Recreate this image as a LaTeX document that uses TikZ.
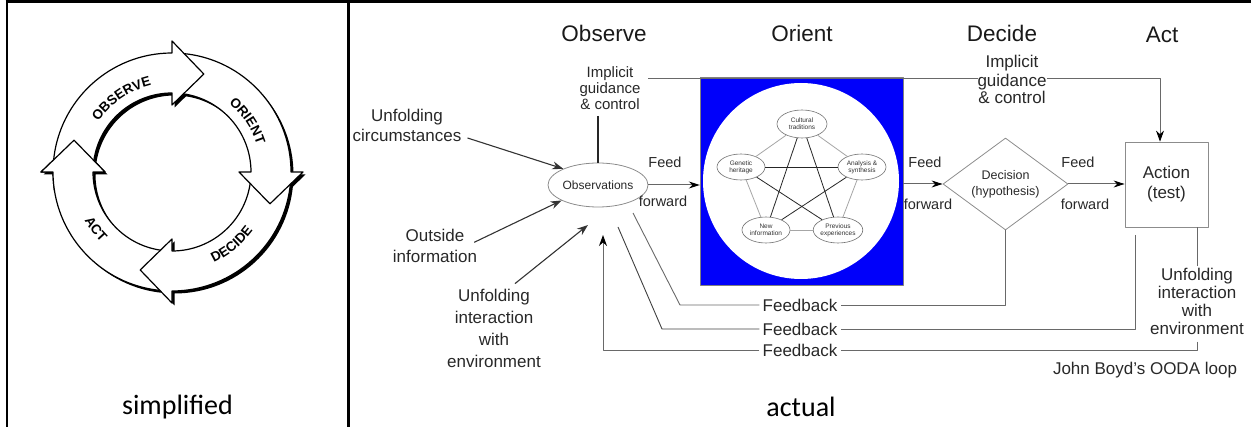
\documentclass[tikz,border=0pt]{standalone}
\usepackage{fontspec}
\setmainfont{Liberation Sans}
\newfontfamily\calfont{Carlito}
\usetikzlibrary{arrows.meta,shapes.geometric,decorations.text,calc}
\definecolor{txt}{RGB}{40,40,40}
\definecolor{ln}{RGB}{105,105,105}
\definecolor{ooblue}{RGB}{0,0,250}
\newcommand\fs[2]{\fontsize{#1}{#2}\selectfont}
\newcommand\cycfont{\fs{13.5}{14}\bfseries}
\newcommand\ooarrowpath[1]{(#1+85:119) arc[start angle=#1+85,end angle=#1,radius=119] -- (#1:131) -- (#1-18:103) -- (#1:67) -- (#1:79) arc[start angle=#1,end angle=#1+85,radius=79] -- cycle}
\begin{document}
\begin{tikzpicture}[x=1pt,y=-1pt,line join=round,
  lab/.style={text=txt,align=center,inner sep=1pt},
  hdr/.style={text=black!90,font=\fs{22.5}{24},anchor=base,inner sep=0pt},
  ff/.style={text=txt,font=\fs{14.5}{16},anchor=base,inner sep=0pt},
  fbl/.style={text=txt,font=\fs{17}{20},inner xsep=3pt,inner ysep=1pt},
  arr/.style={draw=black!80,line width=1.1pt,-{Stealth[length=11pt,width=8pt]}},
  ffarr/.style={draw=black!60,line width=1pt,-{Stealth[length=11pt,width=7pt,fill=black,color=black]}},
  conn/.style={draw=ln,line width=0.9pt},
  fbln/.style={draw=ln,line width=0.9pt},
  pnode/.style={ellipse,draw=black!55,fill=white,line width=0.6pt,minimum width=48pt,minimum height=26pt,inner sep=0pt,align=center,font=\fs{6.5}{7},text=black!80},
  starln/.style={draw=black!85,line width=0.8pt},
  pentln/.style={draw=black!35,line width=0.8pt},
  cyc/.style={draw=black,line width=1.2pt,fill=white}]
\useasboundingbox (0,0) rectangle (1251,427);
% table rules
\draw[line width=3pt] (5.5,2) -- (1251,2);
\draw[line width=2.5pt] (7,0.5) -- (7,427);
\draw[line width=3pt] (348.5,2) -- (348.5,427);

% ---------- simplified cycle ----------
\begin{scope}[shift={(172,172)},y=1pt]
  \foreach \a in {180,-90,0,90} {\fill[black,shift={(2.5,-2.5)}] \ooarrowpath{\a};}
  \foreach \a in {180,-90,0,90} {\path[cyc] \ooarrowpath{\a};}
  \begin{scope}
    \clip (0,0) -- (150:160) arc[start angle=150,end angle=190,radius=160] -- cycle;
    \path[cyc] \ooarrowpath{180};
  \end{scope}
  \path[decorate,decoration={text along path,text={|\cycfont|OBSERVE},text align=center}]
    (164.5:89) arc[start angle=164.5,end angle=84.5,radius=89];
  \path[decorate,decoration={text along path,text={|\cycfont|ORIENT},text align=center}]
    (74:89) arc[start angle=74,end angle=-6,radius=89];
  \path[decorate,decoration={text along path,text={|\cycfont|DECIDE},text align=center}]
    (-90.6:100) arc[start angle=-90.6,end angle=-10.6,radius=100];
  \path[decorate,decoration={text along path,text={|\cycfont|ACT},text align=center}]
    (177:100) arc[start angle=177,end angle=257,radius=100];
\end{scope}
\node[font=\calfont\fs{28}{30},anchor=base,inner sep=0pt] (simp) at (177.5,415) {simplified};

% ---------- actual OODA ----------
\node[hdr] (hobs) at (604,42) {Observe};
\node[hdr] (hori) at (802,42) {Orient};
\node[hdr] (hdec) at (1002,42) {Decide};
\node[hdr] (hact) at (1162,43) {Act};

\node[draw=black!50,fill=ooblue,minimum width=203pt,minimum height=208pt,inner sep=0pt] (orient) at (801.5,181) {};
\node[circle,fill=white,minimum size=196pt,inner sep=0pt] (ocirc) at (801,181) {};
\node[pnode,minimum width=50pt,minimum height=28pt] (cul) at (802,124) {Cultural\\traditions};
\node[pnode] (gen) at (741,167) {Genetic\\heritage};
\node[pnode] (ana) at (862,167) {Analysis \&\\synthesis};
\node[pnode] (new) at (766,230) {New\\information};
\node[pnode] (pre) at (838,230) {Previous\\experiences};
\draw[pentln] (cul) -- (gen);
\draw[pentln] (cul) -- (ana);
\draw[pentln] (gen) -- (new);
\draw[pentln] (ana) -- (pre);
\draw[pentln] (new) -- (pre);
\draw[starln] (cul) -- (new);
\draw[starln] (cul) -- (pre);
\draw[starln] (gen) -- (ana);
\draw[starln] (gen) -- (pre);
\draw[starln] (ana) -- (new);

\node[ellipse,draw=black!45,line width=0.8pt,minimum width=92pt,minimum height=44pt,inner sep=0pt,font=\fs{12}{14},text=txt] (obs) at (598,185) {Observations};
\node[diamond,aspect=1.36,draw=black!45,line width=0.8pt,minimum width=125pt,minimum height=92pt,inner sep=0pt,align=center,font=\fs{12.5}{16},text=txt] (dec) at (1005.5,184) {\strut Decision\\(hypothesis)\strut};
\node[draw=black!45,line width=0.8pt,minimum width=83pt,minimum height=85pt,inner sep=0pt,align=center,font=\fs{17}{20},text=txt] (act) at (1166.5,184.5) {\strut Action\\(test)\strut};

\node[lab,font=\fs{17}{20}] (uc) at (407,128) {\strut Unfolding\\circumstances\strut};
\node[lab,font=\fs{17}{21}] (oi) at (435,248.3) {\strut Outside\\information\strut};
\node[lab,font=\fs{17}{21.7}] (ui1) at (494,330.2) {\strut Unfolding\\interaction\\with\\environment\strut};
\node[lab,font=\fs{15}{16}] (ig1) at (610,90.8) {\strut Implicit\\guidance\\\& control\strut};
\node[lab,font=\fs{17}{18.3}] (ui2) at (1197,303.8) {\strut Unfolding\\interaction\\with\\environment\strut};

\node[ff] (f1a) at (665,168) {Feed};
\node[ff] (f1b) at (663,207) {forward};
\node[ff] (f2a) at (925,168) {Feed};
\node[ff] (f2b) at (928,210) {forward};
\node[ff] (f3a) at (1078,168) {Feed};
\node[ff] (f3b) at (1085,210) {forward};

\node[fbl] (fb1) at (800,305) {Feedback};
\node[fbl] (fb2) at (800,329) {Feedback};
\node[fbl] (fb3) at (800,350) {Feedback};
\node[text=txt,font=\fs{17}{20},anchor=base,inner sep=0pt] (title) at (1145,375) {John Boyd's OODA loop};
\node[font=\calfont\fs{28}{30},anchor=base,inner sep=0pt] (actual) at (801,417) {actual};

% inputs
\draw[arr] ($(uc.east)+(5,10)$) -- (obs.155);
\draw[arr] ($(oi.east)+(-4,-6)$) -- (obs.203);
\coordinate (t3) at (588,225);
\draw[arr] ($(ui1.north)+(21,-2)$) -- (t3);
\draw[draw=black!85,line width=1.1pt] (ig1.south -| obs.north) -- (obs.north);

% implicit guidance to action
\coordinate (g0) at (648,78);
\draw[conn,-{Stealth[length=11pt,width=8pt,color=black]}] (g0) -| ([xshift=-6.5pt]act.north);
\node[lab,font=\fs{17}{17.5},fill=white,inner sep=0pt] (ig2) at (1012,82) {\strut Implicit\\guidance\\\& control\strut};

% feed forward
\draw[ffarr] (obs.east) -- (obs.east -| orient.west);
\draw[ffarr] (orient.east |- dec.west) -- (dec.west);
\draw[ffarr] (dec.east) -- (act.west |- dec.east);

% feedback
\draw[fbln] (dec.south) |- (fb1.east);
\coordinate (c1) at (680,305);
\coordinate (e1) at (633,213);
\draw[fbln] (fb1.west) -- (c1) -- (e1);
\coordinate (s2) at (1135,235);
\draw[fbln] (s2) |- (fb2.east);
\coordinate (c2) at (662,329);
\coordinate (e2) at (618,227);
\draw[fbln,draw=black!75] (fb2.west) -- (c2) -- (e2);
\draw[fbln] (ui2.north |- act.south) -- (ui2.north);
\draw[fbln] (ui2.south) |- (fb3.east);
\coordinate (e3) at (603,235);
\draw[fbln,-{Stealth[length=11pt,width=8pt,color=black]}] (fb3.west) -| (e3);
\end{tikzpicture}
\end{document}
